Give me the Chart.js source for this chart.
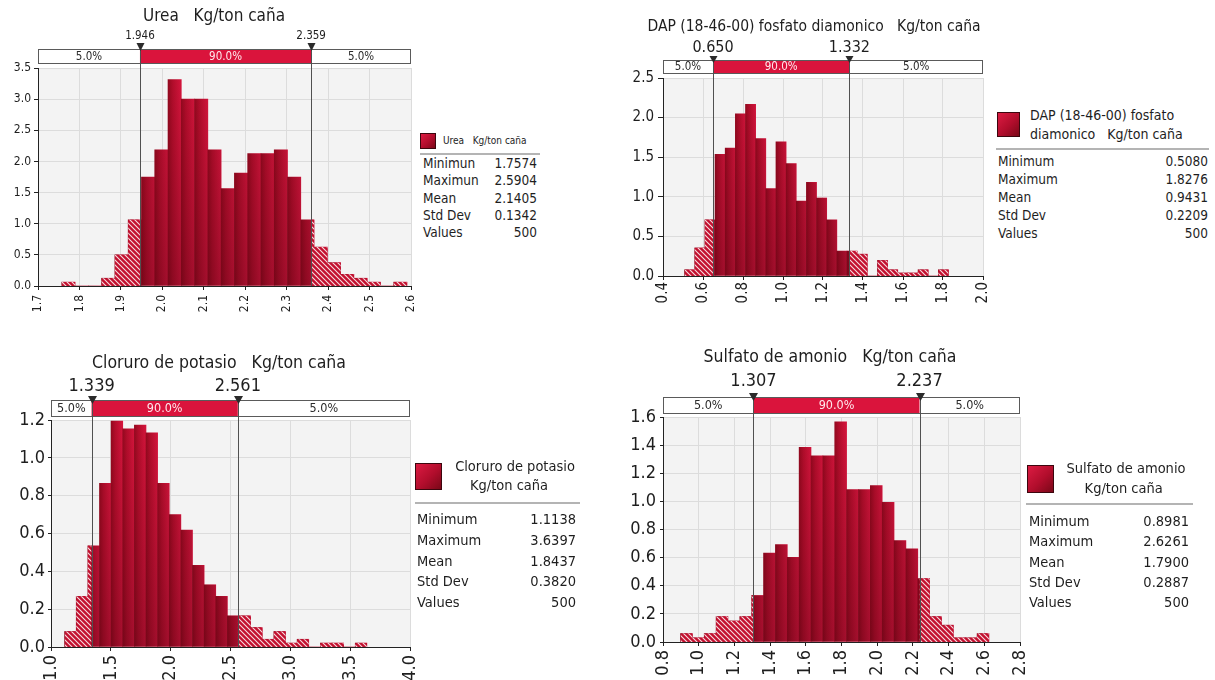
<!DOCTYPE html>
<html>
<head>
<meta charset="utf-8">
<script src="https://cdn.jsdelivr.net/npm/chart.js@4.4.1/dist/chart.umd.min.js"></script>
<style>
  html, body { margin: 0; padding: 0; background: #fff; }
  body { position: relative; width: 1215px; height: 680px; overflow: hidden;
         font-family: 'DejaVu Sans Condensed', 'DejaVu Sans', sans-serif; color: #1e1e1e; }
  canvas { position: absolute; }
  .t { position: absolute; white-space: pre; line-height: 1; }
  .sep { position: absolute; height: 2px; background: #b4b4b4; }
  .sw { position: absolute; box-sizing: border-box; border: 1px solid #3c060e;
        background: linear-gradient(135deg, #dc1b42 0%, #b10d2c 55%, #7a0818 100%); }
</style>
</head>
<body>
<canvas id="c1" width="420" height="320" style="left:0px;top:0px"></canvas>
<canvas id="c2" width="360" height="310" style="left:630px;top:0px"></canvas>
<canvas id="c3" width="420" height="340" style="left:0px;top:340px"></canvas>
<canvas id="c4" width="410" height="340" style="left:620px;top:340px"></canvas>
<script>
const FONT = "'DejaVu Sans Condensed', 'DejaVu Sans', sans-serif";

// ---- Urea ----
const ureaDensity = [0.0625, 0, 0, 0.125, 0.5, 1.0625, 1.75, 2.1875, 3.3125, 3.0, 3.0, 2.1875, 1.5625,
                     1.8125, 2.125, 2.125, 2.1875, 1.75, 1.0625, 0.625, 0.375, 0.1875, 0.125, 0.0625, 0, 0.0625];
const ureaLimits = [1.7574, 2.5904];
const ureaCuts = [1.946, 2.359];
const ureaXTicks = [1.7, 2.6, 0.1];
const ureaYTicks = [0, 3.5, 0.5];
const ureaStats = ['1.7574', '2.5904', '2.1405', '0.1342', '500'];

// ---- DAP ----
const dapDensity = [0.079, 0.355, 0.709, 1.537, 1.616, 2.049, 2.167, 1.734, 1.103, 1.694, 1.419, 0.946, 1.182,
                    0.985, 0.709, 0.315, 0.315, 0.276, 0, 0.197, 0.079, 0.039, 0.039, 0.079, 0, 0.079];
const dapLimits = [0.5080, 1.8276];
const dapCuts = [0.650, 1.332];
const dapXTicks = [0.4, 2.0, 0.2];
const dapYTicks = [0, 2.5, 0.5];
const dapStats = ['0.5080', '1.8276', '0.9431', '0.2209', '500'];

// ---- Cloruro de potasio ----
const kclDensity = [0.082, 0.268, 0.535, 0.865, 1.194, 1.153, 1.173, 1.132, 0.865, 0.700, 0.618, 0.432, 0.329,
                    0.268, 0.165, 0.165, 0.103, 0.041, 0.082, 0.021, 0.041, 0, 0.021, 0.021, 0, 0.021];
const kclLimits = [1.1138, 3.6397];
const kclCuts = [1.339, 2.561];
const kclXTicks = [1.0, 4.0, 0.5];
const kclYTicks = [0, 1.2, 0.2];
const kclStats = ['1.1138', '3.6397', '1.8437', '0.3820', '500'];

// ---- Sulfato de amonio ----
const amsDensity = [0.060, 0.030, 0.060, 0.181, 0.150, 0.181, 0.331, 0.632, 0.692, 0.602, 1.384, 1.324, 1.324,
                    1.565, 1.083, 1.083, 1.113, 0.993, 0.722, 0.662, 0.451, 0.181, 0.120, 0.030, 0.030, 0.060];
const amsLimits = [0.8981, 2.6261];
const amsCuts = [1.307, 2.237];
const amsXTicks = [0.8, 2.8, 0.2];
const amsYTicks = [0, 1.6, 0.2];
const amsStats = ['0.8981', '2.6261', '1.7900', '0.2887', '500'];

const bandLabels = ['5.0%', '90.0%', '5.0%'];
const statNamesUrea = ['Minimun', 'Maximun', 'Mean', 'Std Dev', 'Values'];
const statNames = ['Minimum', 'Maximum', 'Mean', 'Std Dev', 'Values'];

// ---- panel layout ----
const panels = [
  { id: 'c1', title: 'Urea   Kg/ton caña', density: ureaDensity, limits: ureaLimits, cuts: ureaCuts,
    xt: ureaXTicks, yt: ureaYTicks, stats: ureaStats, names: statNamesUrea,
    size: [420, 320], area: { l: 38, t: 68, r: 411, b: 286 },
    tick: 12, yGap: [4, 3], xGap: [4, 5], titleFont: 17, titleAt: [214, 17],
    strip: [49, 15], stripFont: 11.5, cutFont: 11.5, cutY: 36, tri: [8, 6, 2],
    legend: { sw: [420, 133, 16, 16], head: [['Urea   Kg/ton caña', 443, 141, 'l']], headFont: 10,
              sep: [420, 540, 153], row0: 164.3, dy: 17.1, lx: 423, vr: 537, font: 13.5 } },
  { id: 'c2', title: 'DAP (18-46-00) fosfato diamonico   Kg/ton caña', density: dapDensity, limits: dapLimits, cuts: dapCuts,
    xt: dapXTicks, yt: dapYTicks, stats: dapStats, names: statNames,
    size: [360, 310], area: { l: 33, t: 78, r: 353, b: 276 },
    tick: 15, yGap: [5, 4], xGap: [4, 2], titleFont: 15.5, titleAt: [184, 27],
    strip: [60, 14], stripFont: 11.5, cutFont: 16, cutY: 48, tri: [8, 4, 3],
    legend: { sw: [997, 112, 23, 25], head: [['DAP (18-46-00) fosfato', 1030, 115, 'l'], ['diamonico   Kg/ton caña', 1030, 134, 'l']],
              headFont: 14, sep: [996, 1209, 148], row0: 161.7, dy: 18.15, lx: 998, vr: 1208, font: 13.5 } },
  { id: 'c3', title: 'Cloruro de potasio   Kg/ton caña', density: kclDensity, limits: kclLimits, cuts: kclCuts,
    xt: kclXTicks, yt: kclYTicks, stats: kclStats, names: statNames,
    size: [420, 340], area: { l: 51, t: 80, r: 410, b: 307 },
    tick: 18, yGap: [3, 3], xGap: [4, 4], titleFont: 17.5, titleAt: [219, 23],
    strip: [60, 17], stripFont: 12.5, cutFont: 18, cutY: 46, tri: [9, 4, 4],
    legend: { sw: [415, 463, 27, 27], head: [['Cloruro de potasio', 515, 466, 'c'], ['Kg/ton caña', 509, 485, 'c']],
              headFont: 14.5, sep: [415, 580, 502], row0: 519, dy: 20.8, lx: 417, vr: 576, font: 14.5 } },
  { id: 'c4', title: 'Sulfato de amonio   Kg/ton caña', density: amsDensity, limits: amsLimits, cuts: amsCuts,
    xt: amsXTicks, yt: amsYTicks, stats: amsStats, names: statNames,
    size: [410, 340], area: { l: 43, t: 77, r: 400, b: 302 },
    tick: 18, yGap: [3, 4], xGap: [4, 4], titleFont: 17.5, titleAt: [210, 17],
    strip: [57, 17], stripFont: 12.5, cutFont: 18, cutY: 41, tri: [9, 4, 4],
    legend: { sw: [1027, 465, 27, 28], head: [['Sulfato de amonio', 1126, 468.3, 'c'], ['Kg/ton caña', 1123.7, 488.3, 'c']],
              headFont: 14.5, sep: [1026, 1193, 503], row0: 520.7, dy: 20.4, lx: 1029, vr: 1189, font: 14.5 } }
];

function hatchPattern(ctx) {
  const c = document.createElement('canvas');
  c.width = 5; c.height = 5;
  const g = c.getContext('2d');
  g.fillStyle = '#c3102f';
  g.fillRect(0, 0, 5, 5);
  g.strokeStyle = 'rgba(255,255,255,0.85)';
  g.lineWidth = 1.1;
  g.beginPath();
  g.moveTo(-1, -1); g.lineTo(6, 6);
  g.moveTo(-1, 4); g.lineTo(1, 6);
  g.moveTo(4, -1); g.lineTo(6, 1);
  g.stroke();
  return ctx.createPattern(c, 'repeat');
}

// background, bar shading, percentile band, cut lines, markers and title
const riskDecor = {
  id: 'riskDecor',
  beforeDraw(chart) {
    const { ctx, chartArea: a } = chart;
    ctx.save();
    ctx.fillStyle = '#f3f3f3';
    ctx.fillRect(a.left, a.top, a.right - a.left, a.bottom - a.top);
    ctx.restore();
  },
  afterDatasetDraw(chart, args) {
    if (args.index !== 0) return;
    const { ctx, chartArea: a } = chart;
    const g = ctx.createLinearGradient(0, a.top, 0, a.bottom);
    g.addColorStop(0, 'rgba(40,0,8,0)');
    g.addColorStop(1, 'rgba(40,0,8,0.28)');
    ctx.save();
    ctx.fillStyle = g;
    args.meta.data.forEach(el => {
      const { x, y, base, width } = el.getProps(['x', 'y', 'base', 'width'], true);
      if (base - y > 0.5) ctx.fillRect(x - width / 2, y, width, base - y);
    });
    ctx.restore();
  },
  afterDatasetsDraw(chart, args, o) {
    const { ctx, chartArea: a, scales: { x } } = chart;
    const p = o.panel;
    const xa = x.getPixelForValue(p.cuts[0]);
    const xb = x.getPixelForValue(p.cuts[1]);
    const [st, sh] = p.strip;
    ctx.save();
    // band
    ctx.fillStyle = '#ffffff';
    ctx.fillRect(a.left, st, a.right - a.left, sh);
    ctx.fillStyle = '#da143c';
    ctx.fillRect(xa, st, xb - xa, sh);
    ctx.strokeStyle = '#5a5a5a';
    ctx.lineWidth = 1;
    ctx.strokeRect(Math.round(a.left) + 0.5, st + 0.5, Math.round(a.right - a.left) - 1, sh - 1);
    // cut lines
    ctx.strokeStyle = '#505050';
    ctx.beginPath();
    [xa, xb].forEach(px => {
      const xx = Math.round(px) + 0.5;
      ctx.moveTo(xx, st); ctx.lineTo(xx, a.bottom);
    });
    ctx.stroke();
    // band texts
    ctx.font = p.stripFont + 'px ' + FONT;
    ctx.textAlign = 'center';
    ctx.textBaseline = 'middle';
    const cy = st + sh / 2 + 0.5;
    ctx.fillStyle = '#2a2a2a';
    ctx.fillText(bandLabels[0], (a.left + xa) / 2, cy);
    ctx.fillText(bandLabels[2], (xb + a.right) / 2, cy);
    ctx.fillStyle = '#ffe8ec';
    ctx.fillText(bandLabels[1], (xa + xb) / 2, cy);
    // markers
    const [tw, up, down] = p.tri;
    ctx.fillStyle = '#2b2b2b';
    [xa, xb].forEach(px => {
      const xx = Math.round(px) + 0.5;
      ctx.beginPath();
      ctx.moveTo(xx - tw / 2, st - up);
      ctx.lineTo(xx + tw / 2, st - up);
      ctx.lineTo(xx, st + down);
      ctx.closePath();
      ctx.fill();
    });
    // cut values
    ctx.font = p.cutFont + 'px ' + FONT;
    ctx.fillStyle = '#1e1e1e';
    ctx.fillText(p.cuts[0].toFixed(3), xa, p.cutY);
    ctx.fillText(p.cuts[1].toFixed(3), xb, p.cutY);
    // title
    ctx.font = p.titleFont + 'px ' + FONT;
    ctx.fillText(p.title, p.titleAt[0], p.titleAt[1]);
    ctx.restore();
  }
};

function buildPanel(p) {
  const canvas = document.getElementById(p.id);
  const n = p.density.length;
  const w = (p.limits[1] - p.limits[0]) / n;
  const edges = [];
  for (let i = 0; i <= n; i++) edges.push(p.limits[0] + i * w);
  const bars = p.density.map((y, i) => ({ x: edges[i] + w / 2, y }));

  // tails below the 5% cut and above the 95% cut, drawn as stepped areas
  const lowTail = [];
  for (let i = 0; i < n && edges[i] < p.cuts[0]; i++) lowTail.push({ x: edges[i], y: p.density[i] });
  lowTail.push({ x: p.cuts[0], y: lowTail[lowTail.length - 1].y });
  let k = 0;
  while (k < n - 1 && edges[k + 1] <= p.cuts[1]) k++;
  const highTail = [{ x: p.cuts[1], y: p.density[k] }];
  for (let i = k + 1; i < n; i++) highTail.push({ x: edges[i], y: p.density[i] });
  highTail.push({ x: p.limits[1], y: p.density[n - 1] });

  const ctx2d = canvas.getContext('2d');
  const hatch = hatchPattern(ctx2d);
  const tailStyle = {
    type: 'line', order: 0, stepped: 'before', fill: 'origin', backgroundColor: hatch,
    borderWidth: 0, borderColor: 'rgba(0,0,0,0)', pointRadius: 0, pointHoverRadius: 0
  };
  const a = p.area;
  const tickFont = { family: FONT, size: p.tick };

  new Chart(canvas, {
    type: 'bar',
    data: {
      datasets: [
        {
          type: 'bar', order: 1, data: bars, borderWidth: 0,
          barPercentage: 1, categoryPercentage: 1,
          backgroundColor(c) {
            const xs = c.chart.scales.x;
            if (c.type !== 'data' || !xs || !c.raw) return '#c0102e';
            const l = xs.getPixelForValue(c.raw.x - w / 2);
            const r = xs.getPixelForValue(c.raw.x + w / 2);
            if (!isFinite(l) || !isFinite(r) || r <= l) return '#c0102e';
            const g = c.chart.ctx.createLinearGradient(l, 0, r, 0);
            g.addColorStop(0, '#95091f');
            g.addColorStop(0.35, '#b30d2b');
            g.addColorStop(1, '#d6153d');
            return g;
          }
        },
        Object.assign({ data: lowTail }, tailStyle),
        Object.assign({ data: highTail }, tailStyle)
      ]
    },
    options: {
      responsive: false,
      animation: false,
      events: [],
      layout: { padding: { left: 0, top: a.t, right: p.size[0] - a.r, bottom: 0 } },
      plugins: {
        legend: { display: false },
        title: { display: false },
        tooltip: { enabled: false },
        riskDecor: { panel: p }
      },
      scales: {
        x: {
          type: 'linear', offset: false, min: p.xt[0], max: p.xt[1],
          grid: { color: '#dcdcdc', tickColor: '#222', tickLength: p.xGap[0], offset: false, lineWidth: 1 },
          border: { color: '#222', width: 1, z: 2 },
          ticks: {
            stepSize: p.xt[2], autoSkip: false, minRotation: 90, maxRotation: 90,
            padding: p.xGap[1], color: '#1e1e1e', font: tickFont,
            callback: v => Number(v).toFixed(1)
          },
          afterFit(s) { s.height = p.size[1] - a.b; s.paddingLeft = 0; s.paddingRight = 0; }
        },
        y: {
          type: 'linear', min: p.yt[0], max: p.yt[1],
          grid: { color: '#dcdcdc', tickColor: '#222', tickLength: p.yGap[0], lineWidth: 1 },
          border: { color: '#222', width: 1, z: 2 },
          ticks: {
            stepSize: p.yt[2], padding: p.yGap[1], color: '#1e1e1e', font: tickFont,
            callback: v => Number(v).toFixed(1)
          },
          afterFit(s) { s.width = a.l; s.paddingTop = 0; s.paddingBottom = 0; }
        }
      }
    },
    plugins: [riskDecor]
  });
}

function addText(txt, x, y, size, align) {
  const d = document.createElement('div');
  d.className = 't';
  d.textContent = txt;
  d.style.left = x + 'px';
  d.style.top = y + 'px';
  d.style.fontSize = size + 'px';
  d.style.transform = align === 'c' ? 'translate(-50%,-50%)' : align === 'r' ? 'translate(-100%,-50%)' : 'translateY(-50%)';
  document.body.appendChild(d);
}

function buildLegend(p) {
  const L = p.legend;
  const sw = document.createElement('div');
  sw.className = 'sw';
  Object.assign(sw.style, { left: L.sw[0] + 'px', top: L.sw[1] + 'px', width: L.sw[2] + 'px', height: L.sw[3] + 'px' });
  document.body.appendChild(sw);
  L.head.forEach(h => addText(h[0], h[1], h[2], L.headFont, h[3]));
  const sep = document.createElement('div');
  sep.className = 'sep';
  Object.assign(sep.style, { left: L.sep[0] + 'px', top: L.sep[2] + 'px', width: (L.sep[1] - L.sep[0]) + 'px' });
  document.body.appendChild(sep);
  p.names.forEach((nm, i) => {
    const y = L.row0 + i * L.dy;
    addText(nm, L.lx, y, L.font, 'l');
    addText(p.stats[i], L.vr, y, L.font, 'r');
  });
}

panels.forEach(p => { buildPanel(p); buildLegend(p); });
</script>
</body>
</html>
